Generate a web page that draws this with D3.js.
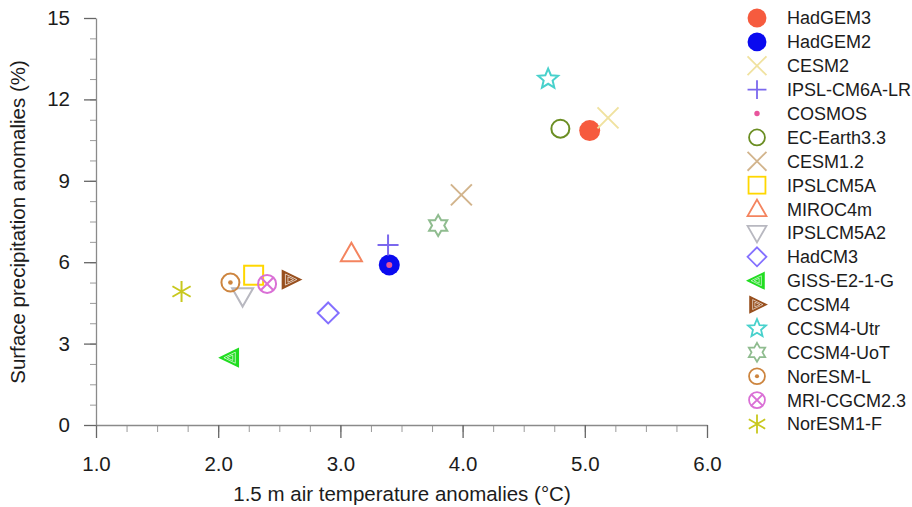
<!DOCTYPE html>
<html>
<head>
<meta charset="utf-8">
<script src="https://cdn.jsdelivr.net/npm/d3@7"></script>
<style>
  body { margin: 0; background: #fff; }
  text { font-family: "Liberation Sans", Arial, sans-serif; fill: #1c1c1c; }
</style>
</head>
<body>
<svg id="chart" width="912" height="507"></svg>
<script>
// model names, in legend order
const models = ["HadGEM3", "HadGEM2", "CESM2", "IPSL-CM6A-LR", "COSMOS", "EC-Earth3.3",
  "CESM1.2", "IPSLCM5A", "MIROC4m", "IPSLCM5A2", "HadCM3", "GISS-E2-1-G", "CCSM4",
  "CCSM4-Utr", "CCSM4-UoT", "NorESM-L", "MRI-CGCM2.3", "NorESM1-F"];
// 1.5 m air temperature anomalies (degC)
const tempAnom = [5.04, 3.4, 5.19, 3.39, 3.4, 4.8, 3.99, 2.29, 3.09, 2.2, 2.9, 2.1, 2.59,
  4.7, 3.8, 2.1, 2.4, 1.7];
// surface precipitation anomalies (%)
const precipAnom = [10.85, 5.9, 11.32, 6.63, 5.9, 10.92, 8.48, 5.52, 6.33, 4.75, 4.13, 2.48, 5.36,
  12.75, 7.35, 5.25, 5.2, 4.92];
const xTicks = [1, 2, 3, 4, 5, 6];
const yTicks = [0, 3, 6, 9, 12, 15];

// marker style per model
const shapes = ["fillCircle", "fillCircle", "x", "plus", "dot", "openCircle", "x", "square",
  "triUp", "triDown", "diamond", "triLeft", "triRight", "star", "hexagram", "circleDot",
  "circleX", "asterisk"];
const colors = ["#f65b3e", "#0a0aef", "#f0e2a0", "#7b68ee", "#e8559c", "#6b8e23", "#d2b48c",
  "#ffd700", "#f4845f", "#b8b8c0", "#8470ff", "#22dd22", "#98501f", "#48d1cc", "#8fbc8f",
  "#cd853f", "#da70d6", "#c8c81e"];

var svg = d3.select("#chart");

var x = d3.scaleLinear().domain([1, 6]).range([96, 707]);
var y = d3.scaleLinear().domain([0, 15]).range([425, 18]);

// minor ticks first
svg.append("g")
  .attr("transform", "translate(0,425)")
  .call(d3.axisBottom(x).tickValues(d3.range(1, 6.01, 0.25)).tickSize(7).tickSizeOuter(0).tickFormat(""))
  .call(g => g.select(".domain").remove())
  .call(g => g.selectAll("line").attr("stroke", "#9a9a9a"));
svg.append("g")
  .attr("transform", "translate(96,0)")
  .call(d3.axisLeft(y).tickValues(d3.range(0, 15.01, 0.75)).tickSize(6).tickSizeOuter(0).tickFormat(""))
  .call(g => g.select(".domain").remove())
  .call(g => g.selectAll("line").attr("stroke", "#9a9a9a"));

var xAxis = svg.append("g")
  .attr("transform", "translate(0,425)")
  .call(d3.axisBottom(x).tickValues(xTicks).tickSize(13).tickSizeOuter(0).tickPadding(18)
    .tickFormat(d3.format(".1f")));
var yAxis = svg.append("g")
  .attr("transform", "translate(96,0)")
  .call(d3.axisLeft(y).tickValues(yTicks).tickSize(12).tickSizeOuter(0).tickPadding(14));

[xAxis, yAxis].forEach(function (ax) {
  ax.select(".domain").attr("stroke", "#8a8a8a").attr("stroke-width", 1.3);
  ax.selectAll(".tick line").attr("stroke", "#666").attr("stroke-width", 1.3);
  ax.selectAll(".tick text").style("font-size", "20.5px").attr("fill", "#1c1c1c");
});

svg.append("text")
  .attr("x", 402).attr("y", 501)
  .attr("text-anchor", "middle")
  .style("font-size", "20.5px")
  .text("1.5 m air temperature anomalies (\u00b0C)");
svg.append("text")
  .attr("transform", "translate(25,222) rotate(-90)")
  .attr("text-anchor", "middle")
  .style("font-size", "20.5px")
  .text("Surface precipitation anomalies (%)");

function polyPath(pts) {
  return "M" + pts.map(p => p[0].toFixed(2) + "," + p[1].toFixed(2)).join("L") + "Z";
}

function starPts(n, ro, ri, rot) {
  var pts = [];
  for (var i = 0; i < 2 * n; i++) {
    var a = rot + i * Math.PI / n;
    var r = i % 2 === 0 ? ro : ri;
    pts.push([r * Math.sin(a), -r * Math.cos(a)]);
  }
  return pts;
}

function drawMarker(g, type, color, k) {
  var s = 10.5 * k;
  var sw = 2 * k;
  function stroke(sel) { return sel.attr("fill", "none").attr("stroke", color).attr("stroke-width", sw); }
  switch (type) {
    case "fillCircle":
      g.append("circle").attr("r", s).attr("fill", color);
      break;
    case "dot":
      g.append("circle").attr("r", 3 * k).attr("fill", color);
      break;
    case "openCircle":
      stroke(g.append("circle").attr("r", s - 1.5).attr("stroke-width", 2.6 * k));
      break;
    case "x":
      stroke(g.append("path").attr("d", `M${-s},${-s}L${s},${s}M${-s},${s}L${s},${-s}`));
      break;
    case "plus":
      stroke(g.append("path").attr("d", `M${-s},0L${s},0M0,${-s}L0,${s}`));
      break;
    case "square":
      stroke(g.append("rect").attr("x", -s + 1).attr("y", -s + 1).attr("width", 2 * s - 2).attr("height", 2 * s - 2));
      break;
    case "triUp":
      stroke(g.append("path").attr("d", polyPath([[0, -s], [s, s * 0.75], [-s, s * 0.75]])));
      break;
    case "triDown":
      stroke(g.append("path").attr("d", polyPath([[0, s], [s, -s * 0.75], [-s, -s * 0.75]])));
      break;
    case "diamond":
      stroke(g.append("path").attr("d", polyPath([[0, -s], [s, 0], [0, s], [-s, 0]])));
      break;
    case "triLeft":
    case "triRight":
      var d = type === "triLeft" ? -1 : 1;
      [1, 0.62, 0.3].forEach(function (f, i) {
        var p = g.append("path").attr("d", polyPath([[d * s * f, 0], [-d * s * 0.75 * f, -s * 0.85 * f], [-d * s * 0.75 * f, s * 0.85 * f]]));
        if (i === 0) p.attr("fill", color).attr("stroke", color).attr("stroke-width", 1.5 * k);
        else p.attr("fill", "none").attr("stroke", "#fff").attr("stroke-opacity", 0.75).attr("stroke-width", 0.9 * k);
      });
      break;
    case "star":
      stroke(g.append("path").attr("d", polyPath(starPts(5, s, s * 0.45, 0))));
      break;
    case "hexagram":
      stroke(g.append("path").attr("d", polyPath(starPts(6, s, s * 0.58, 0))));
      break;
    case "circleDot":
      stroke(g.append("circle").attr("r", s - 1.5));
      g.append("circle").attr("r", 2.3 * k).attr("fill", color);
      break;
    case "circleX":
      stroke(g.append("circle").attr("r", s - 1.5));
      var c = (s - 1.5) * 0.707;
      stroke(g.append("path").attr("d", `M${-c},${-c}L${c},${c}M${-c},${c}L${c},${-c}`));
      break;
    case "asterisk":
      var a = s * 0.866, b = s * 0.5;
      stroke(g.append("path").attr("d", `M0,${-s}L0,${s}M${-a},${-b}L${a},${b}M${-a},${b}L${a},${-b}`));
      break;
  }
}

// scatter points
var pts = svg.append("g");
models.forEach(function (m, i) {
  var g = pts.append("g").attr("transform", `translate(${x(tempAnom[i])},${y(precipAnom[i])})`);
  drawMarker(g, shapes[i], colors[i], 1);
});

// legend
var legendY = d3.scalePoint().domain(models).range([18, 424]);
var legend = svg.append("g");
models.forEach(function (m, i) {
  var g = legend.append("g").attr("transform", `translate(757,${legendY(m)})`);
  drawMarker(g, shapes[i], colors[i], 0.9);
  legend.append("text")
    .attr("x", 787).attr("y", legendY(m))
    .attr("dy", "0.36em")
    .style("font-size", "18px")
    .text(m);
});
</script>
</body>
</html>
